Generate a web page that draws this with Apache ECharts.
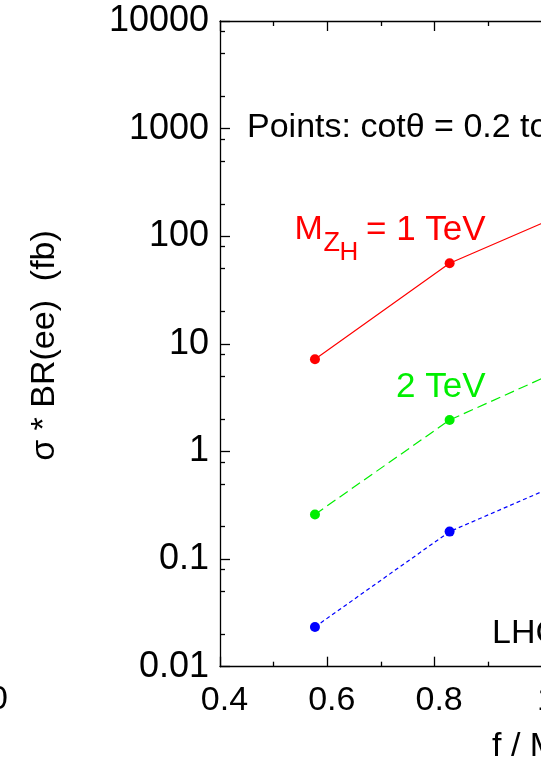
<!DOCTYPE html>
<html><head><meta charset="utf-8">
<style>html,body{margin:0;padding:0;overflow:hidden;background:#fff;width:541px;height:764px}
#c{width:900px;height:764px;}</style>
<script src="https://cdn.jsdelivr.net/npm/echarts@6/dist/echarts.min.js"></script>
</head><body><div id="c"></div><script>
const fMvalues = [0.577, 0.828, 1.08];
const sigma1TeV = [7.19, 56.1, 196];
const sigma2TeV = [0.26, 1.96, 7.2];
const sigma3TeV = [0.0234, 0.18, 0.63];
const yMajorTicks = [0.01, 0.1, 1, 10, 100, 1000, 10000];
const yTickLabels = ['0.01', '0.1', '1', '10', '100', '1000', '10000'];
const yMinorTicks = [0.02,0.05,0.08,0.2,0.5,0.8,2,5,8,20,50,80,200,500,800,2000,5000,8000];

const FF = "'Liberation Sans', Arial, Helvetica, sans-serif";
const FS = 34;
const chart = echarts.init(document.getElementById('c'), null, {renderer: 'canvas'});
const pts = arr => fMvalues.map((x, i) => [x, arr[i]]);
const axisLine = {show: true, lineStyle: {color: '#000', width: 1.3}};
function xAx(pos, showLabel) {
  return {
    type: 'value', position: pos, min: 0.4, max: 1.6, interval: 0.2,
    axisLine: axisLine,
    axisTick: {show: true, inside: true, length: 10, lineStyle: {color: '#000', width: 1.3}},
    minorTick: {show: true, splitNumber: 2, length: 5, lineStyle: {color: '#000', width: 1.3}},
    splitLine: {show: false}, minorSplitLine: {show: false},
    axisLabel: {show: showLabel, color: '#000', fontSize: FS, fontFamily: FF, margin: 17, padding: [0, 0, 0, 9]}
  };
}
const labelOf = v => {
  const i = yMajorTicks.findIndex(t => Math.abs(Math.log10(t) - Math.log10(v)) < 1e-6);
  return i >= 0 ? yTickLabels[i] : '';
};
const option = {
  animation: false,
  backgroundColor: '#fff',
  grid: {left: 220, top: 21, width: 643.8, height: 645.7, containLabel: false},
  xAxis: [xAx('bottom', true), xAx('top', false)],
  yAxis: [
    {
      type: 'log', logBase: 10, min: 0.01, max: 10000, position: 'left',
      axisLine: axisLine,
      axisTick: {show: true, inside: true, length: 10, customValues: yMajorTicks, lineStyle: {color: '#000', width: 1.3}},
      axisLabel: {show: true, customValues: yMajorTicks, formatter: labelOf, color: '#000', fontSize: 36, fontFamily: FF, margin: 11},
      splitLine: {show: false}, minorTick: {show: false}
    },
    {
      type: 'log', logBase: 10, min: 0.01, max: 10000, position: 'left',
      axisLine: {show: false},
      axisTick: {show: true, inside: true, length: 5, customValues: yMinorTicks, lineStyle: {color: '#000', width: 1.3}},
      axisLabel: {show: false},
      splitLine: {show: false}
    }
  ],
  series: [
    {type: 'line', data: pts(sigma1TeV), symbol: 'circle', symbolSize: 10, itemStyle: {color: '#ff0000'},
     lineStyle: {color: '#ff0000', width: 1.2, type: 'solid'}},
    {type: 'line', data: pts(sigma2TeV), symbol: 'circle', symbolSize: 10, itemStyle: {color: '#00ee00'},
     lineStyle: {color: '#00ee00', width: 1.2, type: [10, 5]}},
    {type: 'line', data: pts(sigma3TeV), symbol: 'circle', symbolSize: 10, itemStyle: {color: '#0000ff'},
     lineStyle: {color: '#0000ff', width: 1.2, type: [4, 3]}}
  ],
  graphic: [
    {type: 'text', x: 44.5, y: 345.5, rotation: Math.PI / 2,
     style: {text: 'σ * BR(ee)  (fb)', fill: '#000', fontSize: FS, fontFamily: FF, align: 'center', verticalAlign: 'middle'}},
    {type: 'text', x: 247, y: 128,
     style: {text: 'Points: cotθ = 0.2 to 1.0', fill: '#000', fontSize: FS, fontFamily: FF, align: 'left', verticalAlign: 'middle'}},
    {type: 'text', x: 294.5, y: 230,
     style: {text: 'M', fill: '#ff0000', fontSize: FS, fontFamily: FF, align: 'left', verticalAlign: 'middle'}},
    {type: 'text', x: 323.5, y: 243.5,
     style: {text: 'Z', fill: '#ff0000', fontSize: 27, fontFamily: FF, align: 'left', verticalAlign: 'middle'}},
    {type: 'text', x: 339.5, y: 252.5,
     style: {text: 'H', fill: '#ff0000', fontSize: 26, fontFamily: FF, align: 'left', verticalAlign: 'middle'}},
    {type: 'text', x: 366, y: 230,
     style: {text: '= 1 TeV', fill: '#ff0000', fontSize: 35, fontFamily: FF, align: 'left', verticalAlign: 'middle'}},
    {type: 'text', x: 396, y: 387,
     style: {text: '2 TeV', fill: '#00ee00', fontSize: 35, fontFamily: FF, align: 'left', verticalAlign: 'middle'}},
    {type: 'text', x: 492, y: 634,
     style: {text: 'LHC', fill: '#000', fontSize: FS, fontFamily: FF, align: 'left', verticalAlign: 'middle'}},
    {type: 'text', x: 492, y: 746.5,
     style: {text: 'f / M', fill: '#000', fontSize: FS, fontFamily: FF, align: 'left', verticalAlign: 'middle'}},
    {type: 'text', x: 8, y: 700,
     style: {text: '0', fill: '#000', fontSize: FS, fontFamily: FF, align: 'right', verticalAlign: 'middle'}}
  ]
};
chart.setOption(option);
</script></body></html>
